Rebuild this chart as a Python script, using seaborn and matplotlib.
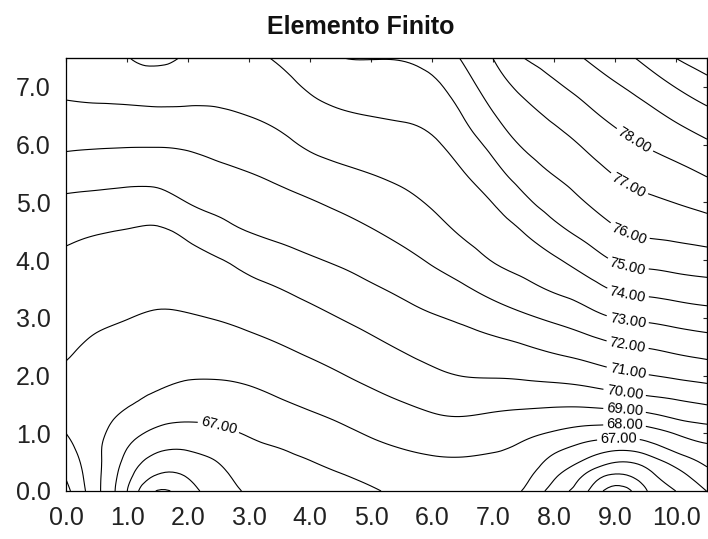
import numpy as np
import matplotlib
matplotlib.use("Agg")
import matplotlib.pyplot as plt
import matplotlib.tri as mtri
import seaborn as sns
from matplotlib import font_manager

x_vals = [0.0, 0.5, 1.0, 1.5, 2.0, 2.5, 3.0, 3.5, 4.0, 4.5, 5.0,
          5.5, 6.0, 6.5, 7.0, 7.5, 8.0, 8.5, 9.0, 9.5, 10.0, 10.5]
y_vals = [0.0, 0.25, 0.5, 0.75, 1.0, 1.25, 1.5, 2.0, 2.5, 3.0, 3.5,
          4.0, 4.5, 5.0, 5.5, 6.0, 6.5, 7.0, 7.5]

# field values, one list per x column (bottom to top)
col_x00 = [70.3, 69.93, 69.62, 69.31, 69.0, 68.8, 68.65, 68.85, 69.12, 69.36, 69.61, 69.85, 70.22, 70.8, 71.48, 72.15, 72.7, 73.26, 73.8]
col_x05 = [68.27, 68.26, 68.25, 68.2, 68.25, 68.3, 68.36, 68.62, 68.87, 69.15, 69.44, 69.74, 70.06, 70.71, 71.4, 72.1, 72.72, 73.36, 73.9]
col_x10 = [66.02, 66.34, 66.68, 67.02, 67.4, 67.76, 68.06, 68.37, 68.69, 69.02, 69.32, 69.64, 69.96, 70.62, 71.34, 72.07, 72.73, 73.42, 73.97]
col_x15 = [63.95, 64.86, 65.57, 66.2, 66.77, 67.26, 67.7, 68.22, 68.56, 68.9, 69.24, 69.57, 69.9, 70.61, 71.38, 72.06, 72.77, 73.48, 74.2]
col_x20 = [64.6, 65.06, 65.58, 66.1, 66.61, 67.09, 67.44, 68.09, 68.51, 68.93, 69.32, 69.71, 70.21, 71.02, 71.57, 72.13, 72.79, 73.38, 73.9]
col_x25 = [65.5, 65.75, 66.02, 66.4, 66.81, 67.16, 67.48, 68.08, 68.56, 69.05, 69.5, 69.95, 70.67, 71.28, 71.78, 72.3, 72.83, 73.4, 73.85]
col_x30 = [66.12, 66.31, 66.53, 66.8, 67.07, 67.35, 67.64, 68.19, 68.73, 69.24, 69.74, 70.33, 71.02, 71.5, 71.98, 72.49, 73.01, 73.5, 73.88]
col_x35 = [66.28, 66.52, 66.77, 67.01, 67.3, 67.59, 67.88, 68.42, 68.95, 69.47, 69.99, 70.64, 71.22, 71.71, 72.23, 72.77, 73.25, 73.69, 74.1]
col_x40 = [66.5, 66.74, 66.97, 67.26, 67.55, 67.84, 68.12, 68.67, 69.21, 69.73, 70.29, 70.9, 71.42, 71.93, 72.54, 73.13, 73.6, 74.13, 74.55]
col_x45 = [66.71, 66.94, 67.22, 67.51, 67.8, 68.09, 68.38, 68.95, 69.48, 70.02, 70.58, 71.14, 71.66, 72.2, 72.81, 73.35, 73.88, 74.43, 74.98]
col_x50 = [66.9, 67.2, 67.5, 67.8, 68.09, 68.39, 68.68, 69.24, 69.78, 70.32, 70.88, 71.41, 71.94, 72.47, 73.01, 73.51, 74.01, 74.52, 75.03]
col_x55 = [67.2, 67.47, 67.73, 68.02, 68.31, 68.62, 68.94, 69.52, 70.09, 70.63, 71.18, 71.73, 72.26, 72.75, 73.22, 73.65, 74.09, 74.57, 75.05]
col_x60 = [67.3, 67.58, 67.86, 68.18, 68.52, 68.86, 69.19, 69.81, 70.38, 70.91, 71.52, 72.11, 72.64, 73.11, 73.49, 73.86, 74.3, 74.78, 75.35]
col_x65 = [67.35, 67.62, 67.89, 68.22, 68.58, 68.94, 69.3, 70.02, 70.57, 71.16, 71.87, 72.55, 73.13, 73.54, 73.95, 74.47, 75.01, 75.55, 76.1]
col_x70 = [67.3, 67.56, 67.82, 68.11, 68.47, 68.83, 69.22, 70.07, 70.73, 71.5, 72.31, 73.05, 73.53, 74.03, 74.67, 75.3, 75.93, 76.48, 77.02]
col_x75 = [66.93, 67.23, 67.53, 67.83, 68.21, 68.68, 69.16, 70.14, 70.94, 71.84, 72.71, 73.41, 74.04, 74.78, 75.47, 76.11, 76.65, 77.26, 78.0]
col_x80 = [65.56, 66.11, 66.67, 67.26, 67.9, 68.51, 69.12, 70.26, 71.22, 72.19, 73.12, 73.88, 74.72, 75.43, 76.05, 76.6, 77.18, 77.83, 78.45]
col_x85 = [64.22, 64.85, 65.83, 66.68, 67.56, 68.39, 69.14, 70.44, 71.52, 72.59, 73.54, 74.46, 75.3, 75.99, 76.54, 77.11, 77.72, 78.36, 79.03]
col_x90 = [62.55, 63.76, 65.02, 66.25, 67.4, 68.38, 69.29, 70.74, 71.87, 73.02, 74.1, 75.07, 75.89, 76.49, 77.06, 77.65, 78.25, 78.88, 79.6]
col_x95 = [63.92, 64.56, 65.38, 66.52, 67.52, 68.55, 69.5, 70.95, 72.05, 73.18, 74.29, 75.29, 76.18, 76.8, 77.43, 78.06, 78.69, 79.41, 80.25]
col_x100 = [65.02, 65.6, 66.35, 67.3, 68.07, 69.02, 69.78, 71.16, 72.27, 73.38, 74.45, 75.44, 76.3, 77.03, 77.72, 78.43, 79.19, 80.04, 81.02]
col_x105 = [66.02, 66.6, 67.2, 67.8, 68.53, 69.29, 70.02, 71.36, 72.47, 73.56, 74.6, 75.58, 76.48, 77.31, 78.09, 78.85, 79.69, 80.62, 81.55]

levels = list(range(63, 82))
x_ticks = [0, 1, 2, 3, 4, 5, 6, 7, 8, 9, 10]
y_ticks = [0, 1, 2, 3, 4, 5, 6, 7]
title = "Elemento Finito"

# ---------------- style ----------------
sns.set_style("white")
names = {f.name for f in font_manager.fontManager.ttflist}
main_font = "Liberation Sans Narrow" if "Liberation Sans Narrow" in names else "Liberation Sans"
plt.rcParams["font.family"] = [main_font, "DejaVu Sans"]

Z = np.column_stack([col_x00, col_x05, col_x10, col_x15, col_x20, col_x25, col_x30,
                     col_x35, col_x40, col_x45, col_x50, col_x55, col_x60, col_x65,
                     col_x70, col_x75, col_x80, col_x85, col_x90, col_x95, col_x100,
                     col_x105])
X, Y = np.meshgrid(x_vals, y_vals)

# smooth contouring via matplotlib's triangulation refiner
triang = mtri.Triangulation(X.ravel(), Y.ravel())
refiner = mtri.UniformTriRefiner(triang)
tri_fine, z_fine = refiner.refine_field(Z.ravel(), subdiv=3)

fig = plt.figure(figsize=(7.08, 5.39), dpi=100)
ax = fig.add_axes([66 / 708, 1 - 491 / 539, (707 - 66) / 708, (491 - 58) / 539])

cs = ax.tricontour(tri_fine, z_fine, levels=levels, colors="black", linewidths=0.8)

# label anchor points (the nearest contour gets a label)
label_pos = [(2.5, 1.12), (9.05, 0.89), (9.15, 1.15), (9.15, 1.4), (9.15, 1.7),
             (9.2, 2.07), (9.2, 2.54), (9.2, 2.97), (9.2, 3.41), (9.2, 3.9),
             (9.2, 4.4), (9.2, 5.27), (9.3, 6.05)]
labels = cs.clabel(manual=label_pos, inline=True, inline_spacing=3,
                   fmt="%.2f", fontsize=10.5, colors="black")
for t in labels:
    t.set_fontfamily(["Liberation Sans", "DejaVu Sans"])

ax.set_xlim(0, 10.5)
ax.set_ylim(0, 7.5)
ax.set_xticks(x_ticks)
ax.set_xticklabels([f"{v:.1f}" for v in x_ticks])
ax.set_yticks(y_ticks)
ax.set_yticklabels([f"{v:.1f}" for v in y_ticks])
ax.tick_params(direction="out", length=9, width=0.8, labelsize=18,
               colors="black", labelcolor="#222222", pad=2)
for s in ax.spines.values():
    s.set_visible(True)
    s.set_color("black")
    s.set_linewidth(0.9)

top = ax.secondary_xaxis("top")
top.set_xticks(x_ticks)
top.tick_params(direction="in", length=3, width=0.8, labeltop=False)
right = ax.secondary_yaxis("right")
right.set_yticks(y_ticks)
right.tick_params(direction="in", length=3, width=0.8, labelright=False)

fig.text(361 / 708, 1 - 27 / 539, title, ha="center", va="center",
         fontsize=18, fontweight="bold", color="#111111")

fig.savefig("out.png", dpi=100)
